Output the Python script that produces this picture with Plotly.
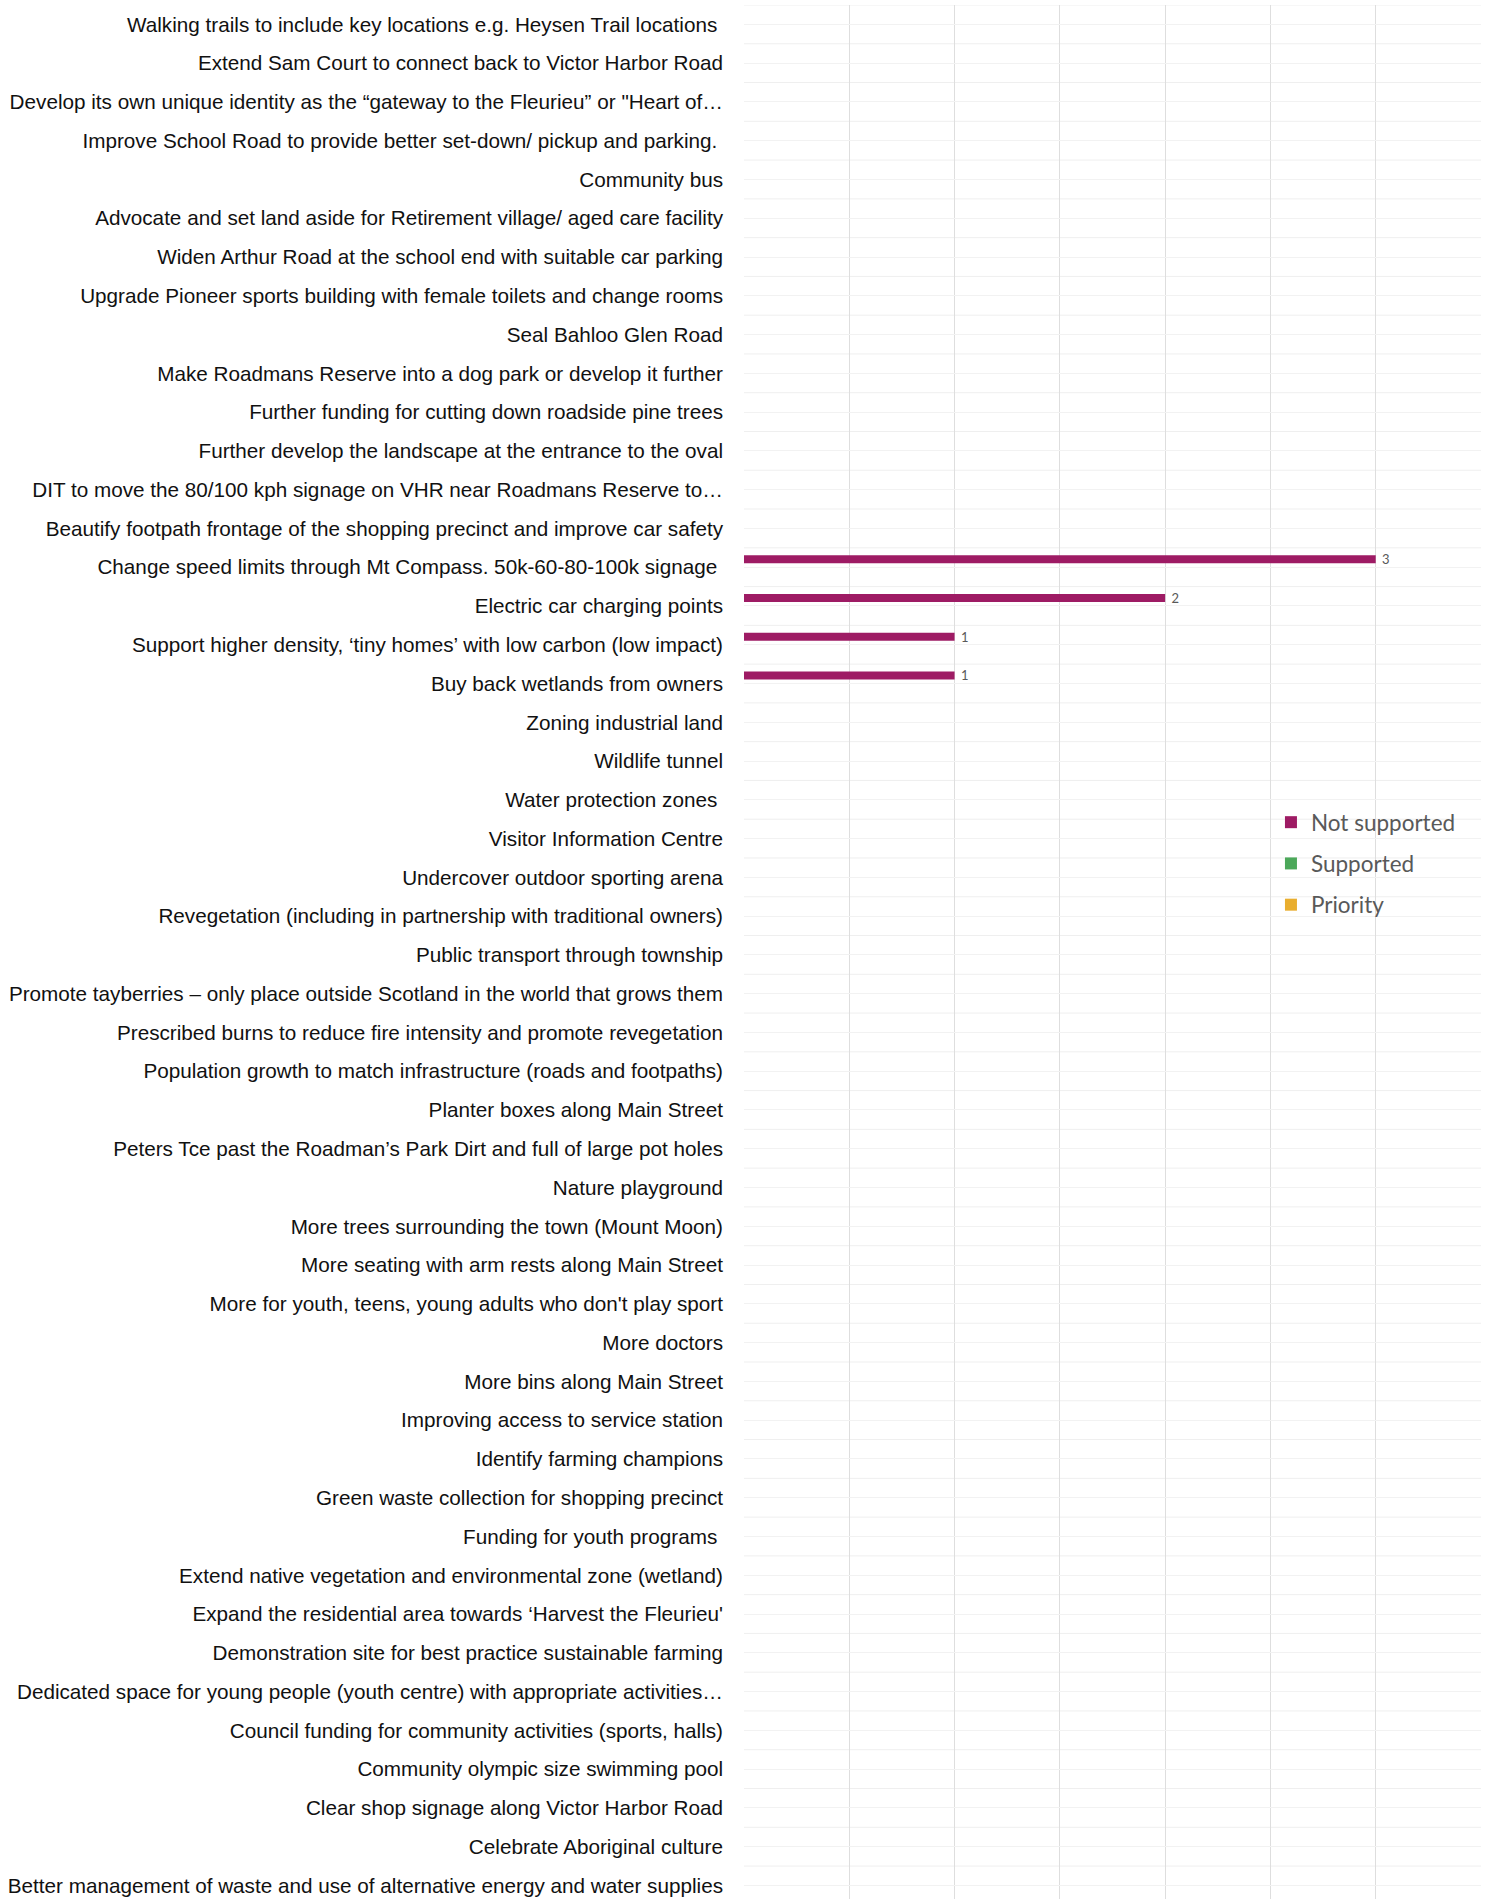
import plotly.graph_objects as go

categories = [
    "Walking trails to include key locations e.g. Heysen Trail locations\u00a0",
    "Extend Sam Court to connect back to Victor Harbor Road",
    "Develop its own unique identity as the \u201cgateway to the Fleurieu\u201d or \"Heart of\u2026",
    "Improve School Road to provide better set-down/ pickup and parking.\u00a0",
    "Community bus",
    "Advocate and set land aside for Retirement village/ aged care facility",
    "Widen Arthur Road at the school end with suitable car parking",
    "Upgrade Pioneer sports building with female toilets and change rooms",
    "Seal Bahloo Glen Road",
    "Make Roadmans Reserve into a dog park or develop it further",
    "Further funding for cutting down roadside pine trees",
    "Further develop the landscape at the entrance to the oval",
    "DIT to move the 80/100 kph signage on VHR near Roadmans Reserve to\u2026",
    "Beautify footpath frontage of the shopping precinct and improve car safety",
    "Change speed limits through Mt Compass. 50k-60-80-100k signage\u00a0",
    "Electric car charging points",
    "Support higher density, \u2018tiny homes\u2019 with low carbon (low impact)",
    "Buy back wetlands from owners",
    "Zoning industrial land",
    "Wildlife tunnel",
    "Water protection zones\u00a0",
    "Visitor Information Centre",
    "Undercover outdoor sporting arena",
    "Revegetation (including in partnership with traditional owners)",
    "Public transport through township",
    "Promote tayberries \u2013 only place outside Scotland in the world that grows them",
    "Prescribed burns to reduce fire intensity and promote revegetation",
    "Population growth to match infrastructure (roads and footpaths)",
    "Planter boxes along Main Street",
    "Peters Tce past the Roadman\u2019s Park Dirt and full of large pot holes",
    "Nature playground",
    "More trees surrounding the town (Mount Moon)",
    "More seating with arm rests along Main Street",
    "More for youth, teens, young adults who don't play sport",
    "More doctors",
    "More bins along Main Street",
    "Improving access to service station",
    "Identify farming champions",
    "Green waste collection for shopping precinct",
    "Funding for youth programs\u00a0",
    "Extend native vegetation and environmental zone (wetland)",
    "Expand the residential area towards \u2018Harvest the Fleurieu'",
    "Demonstration site for best practice sustainable farming",
    "Dedicated space for young people (youth centre) with appropriate activities\u2026",
    "Council funding for community activities (sports, halls)",
    "Community olympic size swimming pool",
    "Clear shop signage along Victor Harbor Road",
    "Celebrate Aboriginal culture",
    "Better management of waste and use of alternative energy and water supplies",
]

not_supported = [0]*14 + [3, 2, 1, 1] + [0]*31
supported = [0]*49
priority = [0]*49

series_names = ["Not supported", "Supported", "Priority"]
series_values = [not_supported, supported, priority]
series_colors = ["#9E1B64", "#4CA85A", "#E9AE2F"]

fig = go.Figure()
for name, vals, col in zip(series_names, series_values, series_colors):
    fig.add_trace(go.Bar(
        y=categories, x=vals, name=name, orientation="h",
        marker=dict(color=col, line=dict(width=0)),
        text=[("\u00a0" + str(v)) if v else "" for v in vals],
        textposition="outside", constraintext="none", cliponaxis=False,
        textfont=dict(family="Lato, sans-serif", size=13, color="#595959"),
        legendgroup=name,
    ))

n = len(categories)
shapes = []
for i in range(n + 1):
    shapes.append(dict(type="line", xref="paper", yref="y", x0=0, x1=1,
                       y0=i - 0.5, y1=i - 0.5, layer="below",
                       line=dict(color="#EFEFEF", width=1)))

fig.update_layout(
    width=1489, height=1899,
    margin=dict(l=744, r=8, t=5, b=0),
    paper_bgcolor="white", plot_bgcolor="white",
    barmode="group", bargap=0.38, bargroupgap=0,
    shapes=shapes,
    showlegend=True,
    legend=dict(x=0.715, y=0.5797, xanchor="left", yanchor="top",
                font=dict(family="Lato, sans-serif", size=22.5, color="#595959"),
                tracegroupgap=9, traceorder="grouped", bgcolor="rgba(0,0,0,0)"),
    xaxis=dict(range=[0, 3.5], dtick=0.5, showticklabels=False, showgrid=True,
               gridcolor="#DEDEDE", gridwidth=1, zeroline=False, showline=False,
               fixedrange=True),
    yaxis=dict(type="category", range=[48.35, -0.5], showgrid=True,
               gridcolor="#F2F2F2", gridwidth=1, ticks="", ticklabelstandoff=20,
               tickfont=dict(family="Liberation Sans, Arial, sans-serif", size=20.7, color="#111111"),
               showline=False, zeroline=False, automargin=False),
)

fig.write_html("out.html", config={"displayModeBar": False},
               post_script="document.body.style.margin='0';document.body.style.overflow='hidden';")
